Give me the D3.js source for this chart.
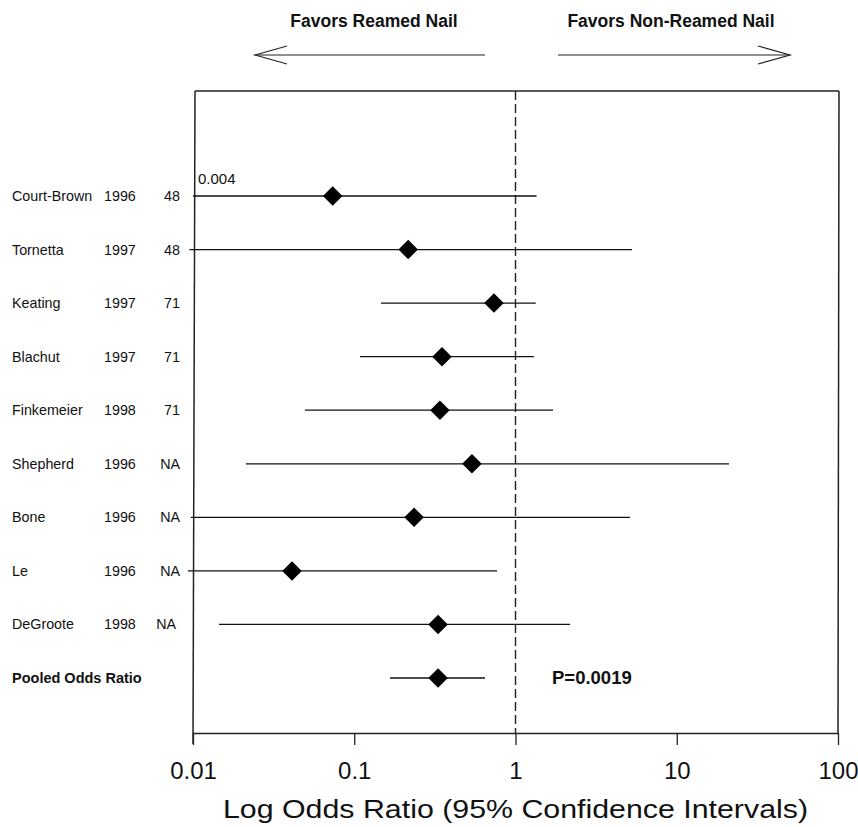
<!DOCTYPE html>
<html>
<head>
<meta charset="utf-8">
<script src="https://cdn.jsdelivr.net/npm/d3@7"></script>
<style>
  html, body { margin: 0; padding: 0; background: #fff; }
  svg { display: block; font-family: "Liberation Sans", Arial, Helvetica, sans-serif; }
</style>
</head>
<body>
<svg id="chart" width="858" height="827"></svg>
<script>
// ---- Data ----
const studies = ["Court-Brown", "Tornetta", "Keating", "Blachut", "Finkemeier", "Shepherd", "Bone", "Le", "DeGroote", "Pooled Odds Ratio"];
const years = ["1996", "1997", "1997", "1997", "1998", "1996", "1996", "1996", "1998", ""];
const nValues = ["48", "48", "71", "71", "71", "NA", "NA", "NA", "NA", ""];
const oddsRatio = [0.0735, 0.216, 0.735, 0.35, 0.34, 0.537, 0.235, 0.0411, 0.331, 0.331];
const lowerCI = [0.004, 0.0095, 0.1465, 0.1085, 0.0495, 0.0213, 0.0097, 0.0093, 0.0145, 0.1667];
const upperCI = [1.35, 5.28, 1.335, 1.30, 1.71, 21.1, 5.13, 0.768, 2.18, 0.647];
const offScaleLabel = "0.004";
const tickValues = [0.01, 0.1, 1, 10, 100];
const tickLabels = ["0.01", "0.1", "1", "10", "100"];
const leftTitle = "Favors Reamed Nail";
const rightTitle = "Favors Non-Reamed Nail";
const xTitle = "Log Odds Ratio (95% Confidence Intervals)";
const pText = "P=0.0019";

// ---- Layout ----
const svg = d3.select("#chart");
const plotLeft = 193, plotRight = 838, plotTop = 91, plotBottom = 733;
const x = d3.scaleLog().domain([0.01, 100]).range([plotLeft, plotRight]);
const y = d3.scalePoint().domain(studies).range([196, 678]);

const rows = studies.map((s, i) => ({s, year: years[i], n: nValues[i], or: oddsRatio[i], lo: lowerCI[i], hi: upperCI[i], i}));
const lastIdx = studies.length - 1;

// Box frame (top, left, right)
const frame = svg.append("g").attr("stroke", "#222").attr("stroke-width", 1.5).attr("fill", "none");
frame.append("line").attr("x1", plotLeft + 2).attr("x2", plotRight + 1).attr("y1", plotTop).attr("y2", plotTop);
frame.append("line").attr("x1", plotLeft + 2).attr("x2", plotLeft).attr("y1", plotTop).attr("y2", plotBottom + 11);
frame.append("line").attr("x1", plotRight + 1).attr("x2", plotRight).attr("y1", plotTop).attr("y2", plotBottom);

// Axis
const axis = d3.axisBottom(x)
  .tickValues(tickValues)
  .tickFormat((d, i) => tickLabels[i])
  .tickSize(12)
  .tickSizeOuter(0)
  .tickPadding(17);
const gAxis = svg.append("g").attr("transform", `translate(0,${plotBottom})`).call(axis);
gAxis.select(".domain").attr("stroke", "#222").attr("stroke-width", 1.5);
gAxis.selectAll(".tick line").attr("stroke", "#222").attr("stroke-width", 1.3);
gAxis.selectAll(".tick text").attr("font-size", 24).attr("fill", "#111")
  .attr("font-family", "'Liberation Sans', Arial, sans-serif");

// Axis title
svg.append("text")
  .attr("x", x(1)).attr("y", 818)
  .attr("text-anchor", "middle")
  .attr("font-size", 25)
  .attr("textLength", 585)
  .attr("lengthAdjust", "spacingAndGlyphs")
  .attr("fill", "#111")
  .text(xTitle);

// Reference line at OR = 1
svg.append("line")
  .attr("x1", x(1)).attr("x2", x(1))
  .attr("y1", plotTop).attr("y2", plotBottom)
  .attr("stroke", "#222").attr("stroke-width", 1.4)
  .attr("stroke-dasharray", "9,4");

// Confidence intervals
svg.append("g").selectAll("line.ci").data(rows).join("line")
  .attr("class", "ci")
  .attr("x1", d => d.lo < 0.009 ? x(0.01) : x(d.lo))
  .attr("x2", d => x(d.hi))
  .attr("y1", d => y(d.s)).attr("y2", d => y(d.s))
  .attr("stroke", "#111").attr("stroke-width", 1.3);

// Diamonds
svg.append("g").selectAll("path.pt").data(rows).join("path")
  .attr("class", "pt")
  .attr("d", d3.symbol(d3.symbolSquare, 190)())
  .attr("transform", d => `translate(${x(d.or)},${y(d.s)}) rotate(45)`)
  .attr("fill", "#000");

// Off-scale lower bound label
svg.append("text")
  .attr("x", plotLeft + 5).attr("y", y(studies[0]) - 12)
  .attr("font-size", 15).attr("fill", "#111")
  .text(offScaleLabel);

// Left labels
const lab = svg.append("g").attr("fill", "#111");
lab.selectAll("text.name").data(rows).join("text")
  .attr("class", "name")
  .attr("x", 12).attr("y", d => y(d.s)).attr("dy", "0.35em")
  .attr("font-weight", d => d.i === lastIdx ? "bold" : "normal")
  .attr("font-size", d => d.i === lastIdx ? 14.5 : 14.3)
  .text(d => d.s);
lab.selectAll("text.year").data(rows).join("text")
  .attr("class", "year")
  .attr("x", 104).attr("y", d => y(d.s)).attr("dy", "0.35em")
  .attr("font-size", 14.3)
  .text(d => d.year);
lab.selectAll("text.n").data(rows).join("text")
  .attr("class", "n")
  .attr("x", d => d.s === "DeGroote" ? 176 : 180).attr("y", d => y(d.s)).attr("dy", "0.35em")
  .attr("text-anchor", "end")
  .attr("font-size", 14.3)
  .text(d => d.n);

// P value
svg.append("text")
  .attr("x", 552).attr("y", y(studies[lastIdx])).attr("dy", "0.35em")
  .attr("font-size", 18.5).attr("font-weight", "bold").attr("fill", "#111")
  .text(pText);

// Top titles
svg.append("text").attr("x", 374).attr("y", 27)
  .attr("text-anchor", "middle").attr("font-size", 17.5).attr("font-weight", "bold").attr("fill", "#111")
  .text(leftTitle);
svg.append("text").attr("x", 671).attr("y", 27)
  .attr("text-anchor", "middle").attr("font-size", 17.5).attr("font-weight", "bold").attr("fill", "#111")
  .text(rightTitle);

// Arrows (open heads)
const ay = 55;
const arr = svg.append("g").attr("stroke", "#222").attr("stroke-width", 1.2).attr("fill", "none");
arr.append("line").attr("x1", 255).attr("x2", 485).attr("y1", ay).attr("y2", ay);
arr.append("polyline").attr("points", `${287},${ay - 9} ${255},${ay} ${287},${ay + 9}`);
arr.append("line").attr("x1", 558).attr("x2", 790).attr("y1", ay).attr("y2", ay);
arr.append("polyline").attr("points", `${758},${ay - 9} ${790},${ay} ${758},${ay + 9}`);
</script>
</body>
</html>
